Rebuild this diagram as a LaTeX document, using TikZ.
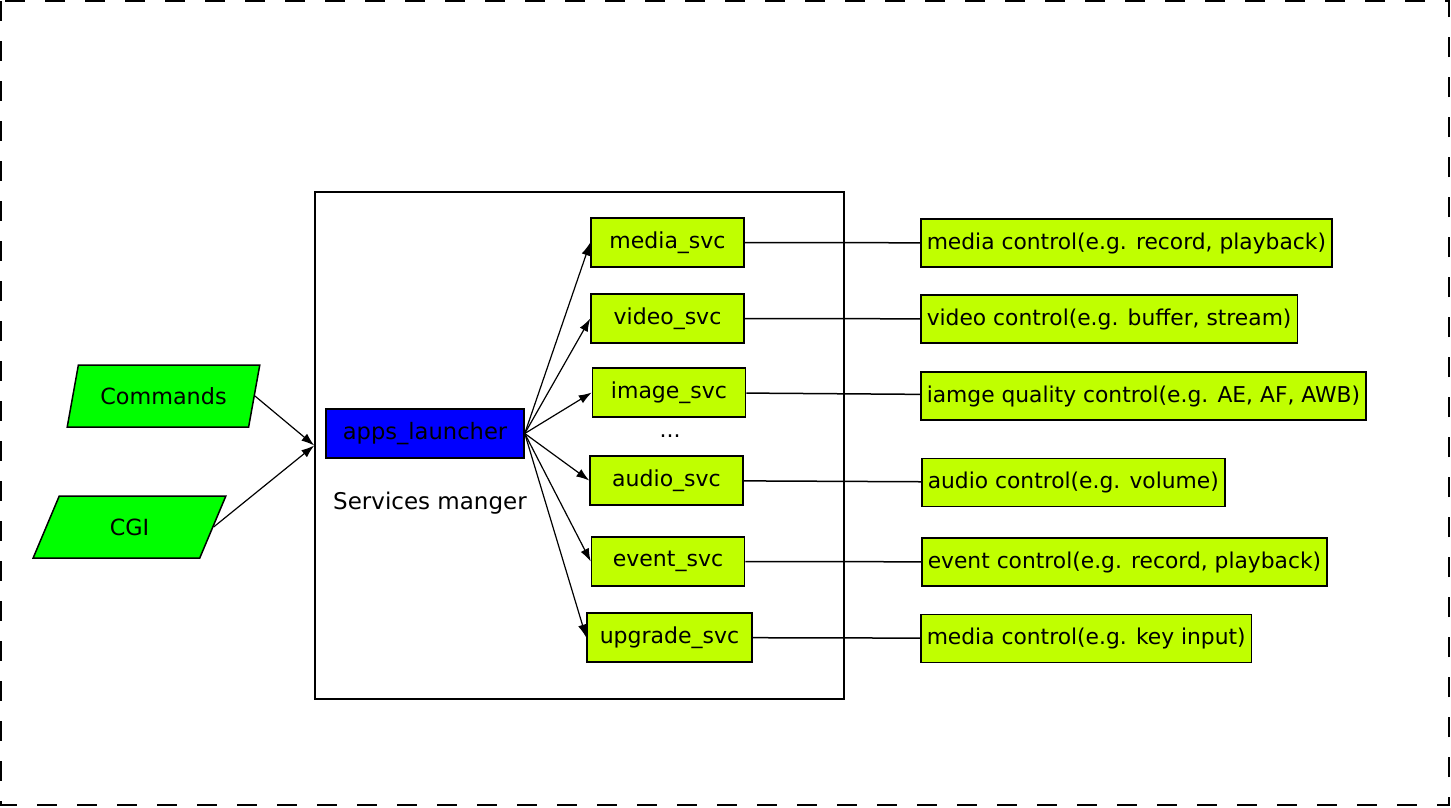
\documentclass[tikz,border=0pt]{standalone}
\usepackage{fontspec}
\setmainfont{DejaVu Sans}
\usetikzlibrary{shapes.geometric, arrows.meta}

\definecolor{svcgreen}{RGB}{192,255,0}
\definecolor{srcgreen}{RGB}{0,255,0}
\definecolor{launcherblue}{RGB}{0,0,255}

\begin{document}
\begin{tikzpicture}[x=1pt, y=-1pt,
	svc/.style={draw, line width=1.5pt, fill=svcgreen, minimum width=153pt, minimum height=49pt, inner xsep=7pt, font=\fontsize{22}{26}\selectfont},
	ctrl/.style={draw, line width=1.5pt, fill=svcgreen, minimum height=48pt, inner xsep=6pt, anchor=west, font=\fontsize{21.8}{26}\selectfont},
	src/.style={trapezium, trapezium left angle=70, trapezium right angle=110, trapezium stretches=true, draw, line width=1.5pt, fill=srcgreen, minimum width=193pt, minimum height=62pt, font=\fontsize{22.3}{26}\selectfont},
	link/.style={-{Latex[length=13pt, width=9pt]}, line width=1.2pt}]
	\useasboundingbox (0,0) rectangle (1451,807);
	\draw[line width=2pt, dash pattern=on 20pt off 20pt] (1,1) rectangle (1449,805);

	\node[draw, line width=1.5pt, minimum width=529pt, minimum height=507pt] (mgr) at (579.5,445.5) {};
	\node[draw, line width=1.5pt, fill=launcherblue, minimum width=198pt, minimum height=49pt, font=\fontsize{22.6}{26}\selectfont] (launcher) at (425,433.5) {apps\_launcher};
	\node[font=\fontsize{23}{26}\selectfont] (mgrlabel) at (430,503) {Services manger};

	\node[src] (cmds) at (163.5,396) {Commands};
	\node[src] (cgi) at (129.5,527) {CGI};

	\node[svc] (media) at (667.5,242.5) {media\_svc};
	\node[svc] (video) at (667.5,318.5) {video\_svc};
	\node[svc] (image) at (669,392.5) {image\_svc};
	\node[font=\fontsize{22}{26}\selectfont] (dots) at (670,436) {...};
	\node[svc] (audio) at (666.5,480.5) {audio\_svc};
	\node[svc] (event) at (668,561.5) {event\_svc};
	\node[svc, minimum width=165pt] (upgrade) at (669.5,637.5) {upgrade\_svc};

	\node[ctrl] (mediactl) at (920,243) {media control(e.g. record, playback)};
	\node[ctrl] (videoctl) at (920,319) {video control(e.g. buffer, stream)};
	\node[ctrl] (imagectl) at (920,396) {iamge quality control(e.g. AE, AF, AWB)};
	\node[ctrl] (audioctl) at (921,482.5) {audio control(e.g. volume)};
	\node[ctrl] (eventctl) at (921,562) {event control(e.g. record, playback)};
	\node[ctrl] (upgradectl) at (920,638.5) {media control(e.g. key input)};

	\path [link]
		(cmds.east) edge (mgr.west)
		(cgi.east) edge (mgr.west)

		(launcher.east) edge (media.west)
		(launcher.east) edge (video.west)
		(launcher.east) edge (image.west)
		(launcher.east) edge (audio.west)
		(launcher.east) edge (event.west)
		(launcher.east) edge (upgrade.west)
		;

	\draw [line width=1.5pt]
		(media) -- (mediactl)
		(video) -- (videoctl)
		(image) -- (imagectl)
		(audio) -- (audioctl)
		(event) -- (eventctl)
		(upgrade) -- (upgradectl)
		;
\end{tikzpicture}
\end{document}
